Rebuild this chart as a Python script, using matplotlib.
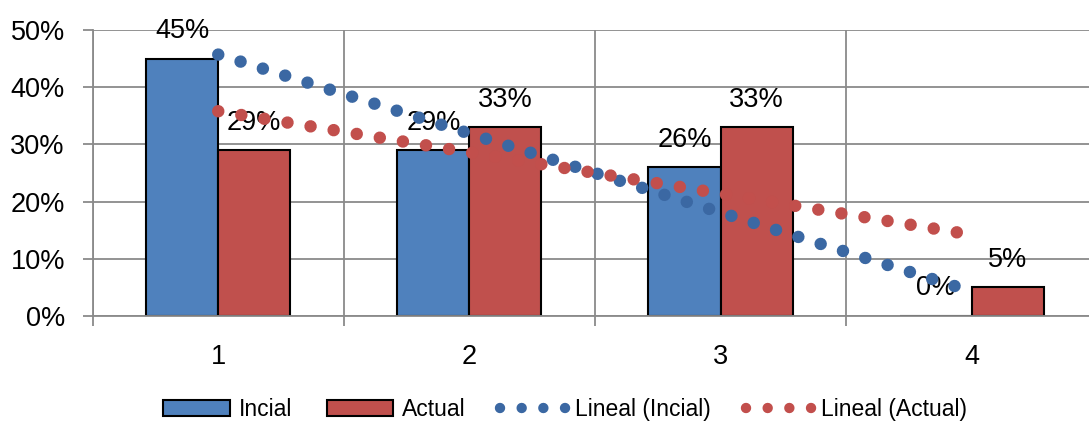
import numpy as np
import matplotlib
matplotlib.use("Agg")
import matplotlib.pyplot as plt
from matplotlib.patches import Patch
from matplotlib.lines import Line2D

# Data
categories = ["1", "2", "3", "4"]
incial = [45, 29, 26, 0]
actual = [29, 33, 33, 5]
series_names = ["Incial", "Actual"]
trend_names = ["Lineal (Incial)", "Lineal (Actual)"]
y_ticks = [0, 10, 20, 30, 40, 50]

plt.rcParams["font.family"] = ["Liberation Sans", "DejaVu Sans"]

BLUE = "#4F81BD"
RED = "#C0504D"
BLUE_T = "#3B68A3"
RED_T = "#C24F4C"
GRID = "#8A8A8A"
FS = 19.5
LEG_FS = 16.5
EDGE_LW = 1.5

fig = plt.figure(figsize=(10.89, 4.26), dpi=100)
ax = fig.add_axes([0.0851, 0.2582, 0.9225, 0.6714])

x = np.arange(1, len(categories) + 1)
bw = 0.287

ax.bar(x - bw / 2, incial, width=bw, color=BLUE, edgecolor="black",
       linewidth=EDGE_LW, zorder=2)
ax.bar(x + bw / 2, actual, width=bw, color=RED, edgecolor="black",
       linewidth=EDGE_LW, zorder=2)

# value labels above each bar
for xs, vals in ((x - bw / 2, incial), (x + bw / 2, actual)):
    for xi, v in zip(xs, vals):
        ax.annotate(f"{v}%", (xi, v), xytext=(0, 10.5), textcoords="offset points",
                    ha="center", va="bottom", fontsize=FS, color="black", zorder=3)

# linear trendlines (least squares), drawn as round dots
dot_lw = 9
for vals, col in ((incial, BLUE_T), (actual, RED_T)):
    m, b = np.polyfit(x, vals, 1)
    xt = np.array([x[0], x[-1]], dtype=float)
    ax.plot(xt, m * xt + b, color=col, lw=dot_lw, linestyle=(0, (0.001, 1.87)),
            dash_capstyle="round", solid_capstyle="round", zorder=4)

# axes styling
ax.set_xlim(0.5, len(categories) + 0.5)
ax.set_ylim(0, 50)
ax.set_yticks(y_ticks)
ax.set_yticklabels([f"{t}%" for t in y_ticks])
ax.set_xticks(np.arange(0.5, len(categories) + 1, 1.0))
ax.set_xticklabels([])
ax.set_xticks(x, minor=True)
ax.set_xticklabels(categories, minor=True)

ax.tick_params(axis="y", which="major", length=7, width=1.3, color=GRID,
               pad=13, labelsize=FS, labelcolor="black")
ax.tick_params(axis="x", which="major", length=7, width=1.3, color=GRID,
               direction="out")
ax.tick_params(axis="x", which="minor", length=0, pad=20, labelsize=FS,
               labelcolor="black")

ax.grid(True, which="major", axis="both", color=GRID, linewidth=1.3, zorder=0)
ax.set_axisbelow(True)
for side in ("top", "right"):
    ax.spines[side].set_visible(False)
for side in ("left", "bottom"):
    ax.spines[side].set_color(GRID)
    ax.spines[side].set_linewidth(1.3)

# legend
handles = [
    Patch(facecolor=BLUE, edgecolor="black", linewidth=EDGE_LW),
    Patch(facecolor=RED, edgecolor="black", linewidth=EDGE_LW),
    Line2D([], [], color=BLUE_T, lw=7.5, linestyle=(0, (0.001, 2.08)),
           dash_capstyle="round"),
    Line2D([], [], color=RED_T, lw=7.5, linestyle=(0, (0.001, 2.08)),
           dash_capstyle="round"),
]
fig.legend(handles, series_names + trend_names, loc="center",
           bbox_to_anchor=(0.519, 0.038), ncol=4, frameon=False, fontsize=LEG_FS,
           handlelength=2.9, handleheight=0.7, handletextpad=0.39,
           columnspacing=1.5, borderpad=0, borderaxespad=0)

fig.savefig("out.png", dpi=100)
